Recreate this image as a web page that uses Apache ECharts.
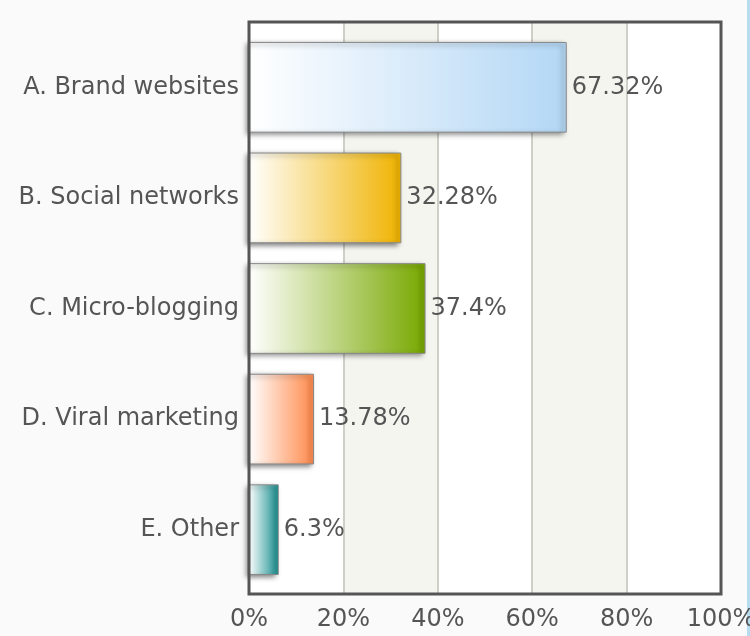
<!DOCTYPE html>
<html>
<head>
<meta charset="utf-8">
<script src="https://cdn.jsdelivr.net/npm/echarts@6/dist/echarts.min.js"></script>
<style>
  html, body { margin: 0; padding: 0; background: #fafafa; }
  #chart { width: 750px; height: 636px; }
</style>
</head>
<body>
<div id="chart"></div>
<script>
const categories = ["A. Brand websites", "B. Social networks", "C. Micro-blogging", "D. Viral marketing", "E. Other"];
const values = [67.32, 32.28, 37.4, 13.78, 6.3];
const barColors = ["#b3d7f5", "#f0b300", "#78a800", "#ff8a4c", "#178f8f"];

const chart = echarts.init(document.getElementById("chart"));

const option = {
  backgroundColor: "#fafafa",
  textStyle: { fontFamily: "DejaVu Sans" },
  grid: [{
    // frame + background bands
    left: 249,
    right: 29,
    top: 22,
    bottom: 42,
    outerBoundsMode: "none",
    show: true,
    backgroundColor: "transparent",
    borderColor: "#555",
    borderWidth: 3,
    z: 10
  }, {
    // bars, inset a little from the frame
    left: 249,
    right: 29,
    top: 32,
    bottom: 51,
    outerBoundsMode: "none"
  }],
  xAxis: [{
    type: "value",
    gridIndex: 0,
    min: 0,
    max: 100,
    interval: 20,
    axisLine: { show: false },
    axisTick: { show: false },
    axisLabel: {
      formatter: "{value}%",
      color: "#555",
      fontSize: 24,
      margin: 14
    },
    splitLine: { show: true, lineStyle: { color: "#cfcfc8", width: 2 } },
    splitArea: { show: true, areaStyle: { color: ["#ffffff", "#f5f5f0"] } }
  }, {
    type: "value",
    gridIndex: 1,
    min: 0,
    max: 100,
    show: false
  }],
  yAxis: [{
    type: "category",
    gridIndex: 0,
    data: categories,
    show: false
  }, {
    type: "category",
    gridIndex: 1,
    data: categories,
    inverse: true,
    axisLine: { show: false },
    axisTick: { show: false },
    axisLabel: { color: "#555", fontSize: 24, margin: 10 }
  }],
  series: [{
    type: "bar",
    xAxisIndex: 1,
    yAxisIndex: 1,
    barWidth: "82%",
    z: 4,
    data: values.map((v, i) => ({
      value: v,
      itemStyle: {
        color: new echarts.graphic.LinearGradient(0, 0, 1, 0, [
          { offset: 0, color: "#ffffff" },
          { offset: 1, color: barColors[i] }
        ])
      }
    })),
    itemStyle: {
      borderColor: "#888",
      borderWidth: 1,
      shadowColor: "rgba(0,0,0,0.5)",
      shadowBlur: 5,
      shadowOffsetX: -3,
      shadowOffsetY: 2
    },
    label: {
      show: true,
      position: "right",
      distance: 5,
      formatter: p => p.value + "%",
      color: "#555",
      fontSize: 24
    }
  }],
  graphic: [{
    type: "rect",
    shape: { x: 747, y: 0, width: 3, height: 636 },
    style: { fill: "#b8dcef" }
  }]
};

chart.setOption(option);
</script>
</body>
</html>
